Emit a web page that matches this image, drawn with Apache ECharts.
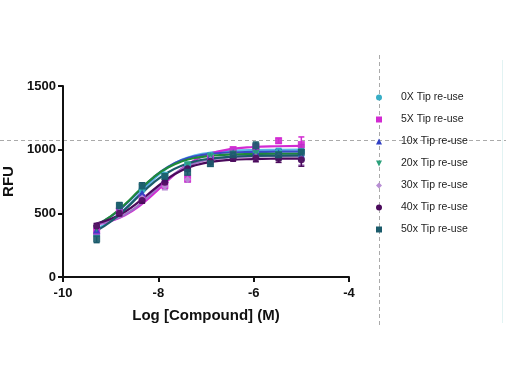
<!DOCTYPE html>
<html><head><meta charset="utf-8">
<script src="https://cdn.jsdelivr.net/npm/echarts@6/dist/echarts.min.js"></script>
<style>html,body{margin:0;padding:0;background:#fff}#c{width:510px;height:382px}</style>
</head><body><div id="c"></div>
<script>
// ---- data ----
const seriesNames = ['0X Tip re-use','5X Tip re-use','10x Tip re-use','20x Tip re-use','30x Tip re-use','40x Tip re-use','50x Tip re-use'];
const logConc = [-9.294, -8.817, -8.340, -7.863, -7.386, -6.908, -6.431, -5.954, -5.477, -5.000];

const mean0X  = [340, 540, 690, 800, 880, 955, 990, 1000, 985, 990];
const mean5X  = [360, 520, 620, 720, 770, 930, 1000, 1020, 1070, 1040];
const mean10x = [370, 530, 660, 770, 870, 950, 975, 985, 975, 960];
const mean20x = [380, 550, 700, 790, 880, 945, 965, 970, 960, 975];
const mean30x = [400, 510, 620, 710, 765, 920, 945, 945, 950, 930];
const mean40x = [400, 500, 600, 745, 850, 910, 930, 935, 930, 920];
const mean50x = [300, 560, 715, 790, 823, 890, 960, 1030, 960, 980];

const err0X  = [20, 20, 20, 20, 20, 20, 20, 25, 25, 40];
const err5X  = [20, 20, 20, 25, 25, 20, 20, 25, 20, 60];
const err10x = [20, 20, 20, 20, 20, 20, 20, 25, 25, 45];
const err20x = [20, 20, 20, 20, 20, 20, 20, 25, 25, 45];
const err30x = [20, 20, 20, 25, 20, 20, 20, 25, 25, 50];
const err40x = [20, 20, 20, 20, 20, 25, 20, 30, 30, 50];
const err50x = [30, 25, 25, 20, 25, 20, 20, 30, 40, 60];

// fitted curves, read at these x positions
const curveX = [-9.3, -9.0, -8.7, -8.4, -8.1, -7.8, -7.5, -7.2, -6.9, -6.5, -6.0, -5.5, -5.0];
const fit0X  = [377, 440, 533, 650, 767, 859, 922, 958, 977, 990, 997, 999, 1000];
const fit5X  = [412, 439, 485, 557, 652, 758, 853, 925, 971, 1004, 1021, 1027, 1029];
const fit10x = [411, 474, 566, 676, 783, 865, 919, 950, 967, 978, 982, 984, 985];
const fit20x = [409, 476, 571, 681, 783, 860, 909, 937, 952, 962, 966, 968, 968];
const fit30x = [416, 442, 491, 568, 670, 771, 849, 898, 924, 940, 947, 949, 950];
const fit40x = [420, 455, 512, 593, 686, 773, 839, 880, 904, 919, 926, 929, 930];
const fit50x = [363, 435, 531, 639, 741, 821, 876, 911, 930, 944, 951, 953, 955];

const yTicks = [0, 500, 1000, 1500];
const xTicks = [-10, -8, -6, -4];

// ---- styling ----
const means = [mean0X, mean5X, mean10x, mean20x, mean30x, mean40x, mean50x];
const errs  = [err0X, err5X, err10x, err20x, err30x, err40x, err50x];
const fits  = [fit0X, fit5X, fit10x, fit20x, fit30x, fit40x, fit50x];
const markColors  = ['#38aec6', '#d22ad2', '#2f3fc4', '#2aa07a', '#b88ed4', '#4b0a5c', '#1b5b6b'];
const curveColors = ['#5cb8e8', '#d22ad2', '#3a4ac8', '#1f8a3a', '#a070c8', '#4b0a5c', '#1b5b6b'];
const downTri = 'path://M0,0 L10,0 L5,10 Z';
const symbols = ['circle', 'rect', 'triangle', downTri, 'diamond', 'circle', 'rect'];

const series = [];
fits.forEach((f, i) => {
  series.push({
    name: seriesNames[i], type: 'line', smooth: 0.5, showSymbol: false, symbol: 'none',
    data: curveX.map((x, j) => [x, f[j]]),
    lineStyle: { color: curveColors[i], width: 2.2 }, itemStyle: { color: markColors[i] },
    z: 2, silent: true
  });
});
errs.forEach((e, i) => {
  series.push({
    name: seriesNames[i], type: 'custom',
    data: logConc.map((x, j) => [x, means[i][j] - e[j], means[i][j] + e[j]]),
    itemStyle: { color: markColors[i] },
    renderItem: function (params, api) {
      const lo = api.coord([api.value(0), api.value(1)]);
      const hi = api.coord([api.value(0), api.value(2)]);
      const w = 3;
      const st = { stroke: markColors[i], lineWidth: 1.5 };
      return { type: 'group', children: [
        { type: 'line', shape: { x1: lo[0], y1: lo[1], x2: hi[0], y2: hi[1] }, style: st },
        { type: 'line', shape: { x1: lo[0] - w, y1: lo[1], x2: lo[0] + w, y2: lo[1] }, style: st },
        { type: 'line', shape: { x1: hi[0] - w, y1: hi[1], x2: hi[0] + w, y2: hi[1] }, style: st }
      ]};
    },
    z: 3, silent: true
  });
});
means.forEach((m, i) => {
  series.push({
    name: seriesNames[i], type: 'scatter', symbol: symbols[i], symbolSize: 7,
    data: logConc.map((x, j) => [x, m[j]]),
    itemStyle: { color: markColors[i], opacity: 0.9 }, z: 4
  });
});

const chart = echarts.init(document.getElementById('c'), null, { renderer: 'canvas' });
chart.setOption({
  animation: false,
  backgroundColor: '#fff',
  grid: { left: 63, right: 161, top: 86, bottom: 105, containLabel: false, outerBoundsMode: 'none' },
  xAxis: {
    type: 'value', min: xTicks[0], max: xTicks[xTicks.length - 1], interval: 2,
    name: 'Log [Compound] (M)', nameLocation: 'middle', nameGap: 31,
    nameTextStyle: { fontFamily: 'Liberation Sans', fontWeight: 'bold', fontSize: 15, color: '#111' },
    axisLine: { lineStyle: { color: '#111', width: 2 } },
    axisTick: { length: 5, lineStyle: { color: '#111', width: 2 } },
    axisLabel: { fontFamily: 'Liberation Sans', fontWeight: 'bold', fontSize: 13, color: '#111', margin: 10 },
    splitLine: { show: false }
  },
  yAxis: {
    type: 'value', min: yTicks[0], max: yTicks[yTicks.length - 1], interval: 500,
    name: 'RFU', nameLocation: 'middle', nameGap: 37,
    nameTextStyle: { fontFamily: 'Liberation Sans', fontWeight: 'bold', fontSize: 15, color: '#111' },
    axisLine: { show: true, lineStyle: { color: '#111', width: 2 } },
    axisTick: { show: true, length: 5, lineStyle: { color: '#111', width: 2 } },
    axisLabel: { fontFamily: 'Liberation Sans', fontWeight: 'bold', fontSize: 13, color: '#111', margin: 7,
      formatter: function (v) { return String(v); } },
    splitLine: { show: false }
  },
  legend: {
    orient: 'vertical', left: 371, top: 87, itemWidth: 6, itemHeight: 6, itemGap: 11,
    data: seriesNames.map((n, i) => ({ name: n, icon: symbols[i] })),
    textStyle: { fontFamily: 'Liberation Sans', fontSize: 10.5, color: '#222', padding: [0, 0, 0, 14] },
    selectedMode: false
  },
  graphic: [
    { type: 'line', z: -1, shape: { x1: 0, y1: 140.5, x2: 506, y2: 140.5 }, style: { stroke: '#aaa', lineWidth: 1, lineDash: [4, 3] } },
    { type: 'line', z: -1, shape: { x1: 379.5, y1: 55, x2: 379.5, y2: 327 }, style: { stroke: '#aaa', lineWidth: 1, lineDash: [4, 3] } },
    { type: 'line', z: -1, shape: { x1: 502.5, y1: 60, x2: 502.5, y2: 323 }, style: { stroke: '#e2f3f3', lineWidth: 1 } }
  ],
  series: series
});
</script></body></html>
